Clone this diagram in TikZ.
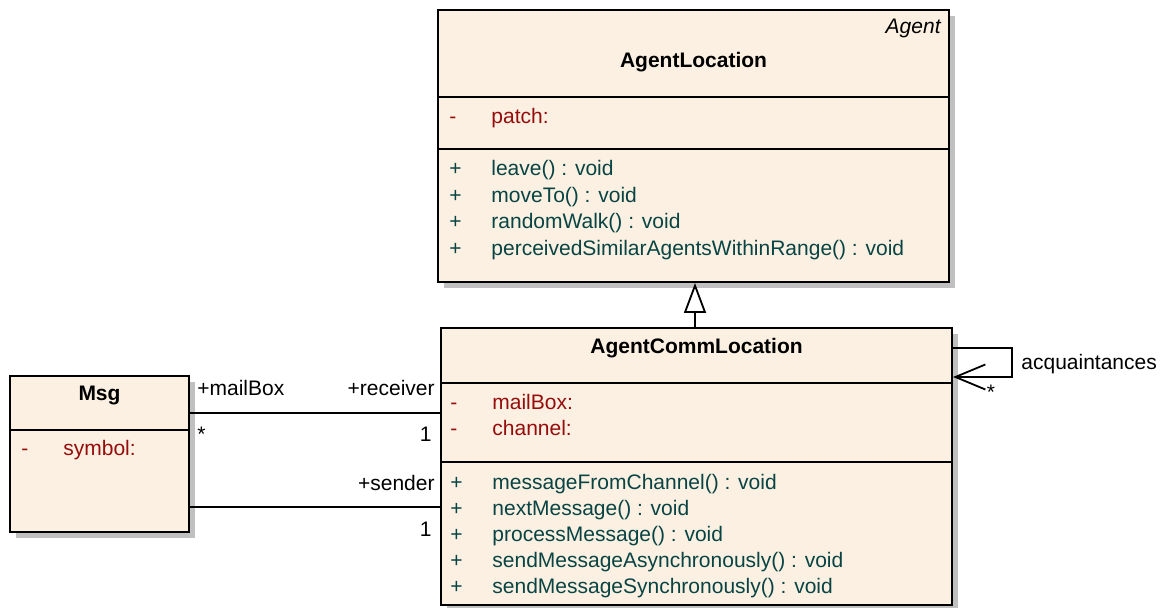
\documentclass[tikz,border=0pt]{standalone}
\usepackage{fontspec}
\setmainfont{Liberation Sans}
\usepackage{xcolor}
\usepackage{tikz}
\usetikzlibrary{positioning,calc,fit,shadows,arrows.meta}

\definecolor{clsfill}{RGB}{251,240,225}
\definecolor{attrred}{RGB}{150,12,12}
\definecolor{methgreen}{RGB}{8,68,68}
\definecolor{shadowgray}{RGB}{192,192,192}
\newcommand{\umlfont}{\fontsize{10.5}{12}\selectfont}

\tikzset{
	classbox/.style={draw, line width=1pt, fill=clsfill, inner sep=0pt,
		drop shadow={shadow xshift=3pt, shadow yshift=-3pt, fill=shadowgray, opacity=1}},
	sepline/.style={line width=1pt},
	assoc/.style={line width=0.9pt},
	ttl/.style={anchor=base, inner sep=0pt, font=\umlfont\bfseries},
	lbl/.style={inner sep=0pt, font=\umlfont},
	attr/.style={anchor=base west, inner sep=0pt, font=\umlfont, text=attrred},
	meth/.style={anchor=base west, inner sep=0pt, font=\umlfont, text=methgreen}
}

\begin{document}
\begin{tikzpicture}[x=0.5pt,y=-0.5pt]
	\useasboundingbox (0,0) rectangle (1166,608);
	
	% AgentLocation
	\node[classbox, fit={(438,10) (949,282)}] (al) {};
	\draw[sepline] (al.west |- 0,97) -- (al.east |- 0,97);
	\draw[sepline] (al.west |- 0,149) -- (al.east |- 0,149);
	\node[lbl, anchor=base east, font=\umlfont\itshape] (alstereo) at (941,34) {Agent};
	\node[ttl] (altitle) at (al.north |- 0,68) {AgentLocation};
	\node[attr] (alvis) at (449,124) {-};
	\node[attr] (alpatch) at (491,124) {patch:};
	\foreach \m [count=\i from 0] in {leave() : void, moveTo() : void, randomWalk() : void, perceivedSimilarAgentsWithinRange() : void}{
		\node[meth] (alp\i) at (449,{176+26.4*\i}) {+};
		\node[meth] (alm\i) at (491,{176+26.4*\i}) {\m};
	}
	
	% AgentCommLocation
	\node[classbox, fit={(441,328) (952,605)}] (acl) {};
	\draw[sepline] (acl.west |- 0,383) -- (acl.east |- 0,383);
	\draw[sepline] (acl.west |- 0,462) -- (acl.east |- 0,462);
	\node[ttl] (acltitle) at (acl.north |- 0,354) {AgentCommLocation};
	\foreach \a [count=\i from 0] in {mailBox:, channel:}{
		\node[attr] (aclv\i) at (450,{410+26*\i}) {-};
		\node[attr] (acla\i) at (492,{410+26*\i}) {\a};
	}
	\foreach \m [count=\i from 0] in {messageFromChannel() : void, nextMessage() : void, processMessage() : void, sendMessageAsynchronously() : void, sendMessageSynchronously() : void}{
		\node[meth] (aclp\i) at (450,{489+26.2*\i}) {+};
		\node[meth] (aclm\i) at (492,{489+26.2*\i}) {\m};
	}
	
	% Msg
	\node[classbox, fit={(10,376) (189,532)}] (msg) {};
	\draw[sepline] (msg.west |- 0,430) -- (msg.east |- 0,430);
	\node[ttl] (msgtitle) at (msg.north |- 0,401) {Msg};
	\node[attr] (msgvis) at (21,456) {-};
	\node[attr] (msgsym) at (63,456) {symbol:};
	
	% generalization
	\draw[line width=0.9pt, -{Triangle[open, length=15pt, width=11pt, fill=white]}] (acl.north -| 695,0) -- (al.south -| 695,0);
	
	% receiver / mailBox
	\coordinate (rcvA) at (msg.east |- 0,413);
	\coordinate (rcvB) at (acl.west |- 0,413);
	\draw[assoc] (rcvA) -- (rcvB);
	\node[lbl, anchor=base west] (mbox) at (197,396) {+mailBox};
	\node[lbl, anchor=base east] (rcv) at (435,396) {+receiver};
	\node[lbl, anchor=north west] (mstar) at (197,427) {*};
	\node[lbl, anchor=base east] (rone) at (432,442) {1};
	
	% sender
	\coordinate (sndA) at (msg.east |- 0,507);
	\coordinate (sndB) at (acl.west |- 0,507);
	\draw[assoc] (sndA) -- (sndB);
	\node[lbl, anchor=base east] (snd) at (435,490) {+sender};
	\node[lbl, anchor=base east] (sone) at (432,536) {1};
	
	% acquaintances (self)
	\coordinate (selfA) at (acl.east |- 0,348);
	\coordinate (selfB) at (acl.east |- 0,377);
	\draw[assoc, -{Straight Barb[length=15pt, width=12.5pt]}] (selfA) -- (1012,348) |- (selfB);
	\node[lbl, anchor=base west] (acq) at (1021,370) {acquaintances};
	\node[lbl] (acqstar) at (991,392) {*};
\end{tikzpicture}
\end{document}
